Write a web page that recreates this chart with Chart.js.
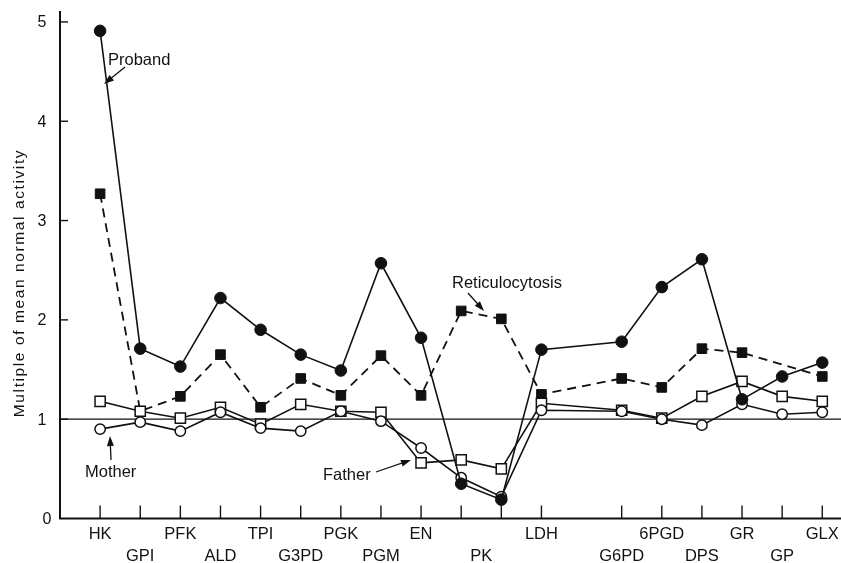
<!DOCTYPE html>
<html>
<head>
<meta charset="utf-8">
<script src="https://cdn.jsdelivr.net/npm/chart.js@4"></script>
<style>
  body { margin: 0; background: #fff; }
  #wrap { width: 841px; height: 563px; }
</style>
</head>
<body>
<div id="wrap"><canvas id="enzymeChart" width="841" height="563"></canvas></div>
<script>
// columns along the x axis (PK was assayed twice, one column is left empty)
const columns = ['HK', 'GPI', 'PFK', 'ALD', 'TPI', 'G3PD', 'PGK', 'PGM', 'EN', 'PK', 'PK', 'LDH', '', 'G6PD', '6PGD', 'DPS', 'GR', 'GP', 'GLX'];

const proband = [4.91, 1.71, 1.53, 2.22, 1.90, 1.65, 1.49, 2.57, 1.82, 0.35, 0.19, 1.70, null, 1.78, 2.33, 2.61, 1.20, 1.43, 1.57];
const reticulocytosis = [3.27, 1.08, 1.23, 1.65, 1.12, 1.41, 1.24, 1.64, 1.24, 2.09, 2.01, 1.25, null, 1.41, 1.32, 1.71, 1.67, null, 1.43];
const father = [1.18, 1.08, 1.01, 1.12, 0.95, 1.15, 1.08, 1.07, 0.56, 0.59, 0.50, 1.16, null, 1.09, 1.01, 1.23, 1.38, 1.23, 1.18];
const mother = [0.90, 0.97, 0.88, 1.07, 0.91, 0.88, 1.08, 0.98, 0.71, 0.41, 0.22, 1.09, null, 1.08, 1.00, 0.94, 1.15, 1.05, 1.07];

const yTicks = [0, 1, 2, 3, 4, 5];
const normalLevel = 1;

const INK = '#111';
const FONT = '"Liberation Sans", Arial, sans-serif';

function toPoints(values) {
  return values.map((v, i) => ({ x: i, y: v }));
}

function arrow(ctx, x1, y1, x2, y2) {
  const a = Math.atan2(y2 - y1, x2 - x1);
  ctx.beginPath();
  ctx.moveTo(x1, y1);
  ctx.lineTo(x2 - 6 * Math.cos(a), y2 - 6 * Math.sin(a));
  ctx.stroke();
  ctx.beginPath();
  ctx.moveTo(x2, y2);
  ctx.lineTo(x2 - 10 * Math.cos(a) + 3.5 * Math.sin(a), y2 - 10 * Math.sin(a) - 3.5 * Math.cos(a));
  ctx.lineTo(x2 - 10 * Math.cos(a) - 3.5 * Math.sin(a), y2 - 10 * Math.sin(a) + 3.5 * Math.cos(a));
  ctx.closePath();
  ctx.fill();
}

// axis ticks, labels, reference line and the hand lettering
const decorations = {
  id: 'decorations',
  beforeDatasetsDraw(chart) {
    const { ctx, chartArea, scales: { y } } = chart;
    ctx.save();
    ctx.strokeStyle = INK;
    ctx.lineWidth = 1.3;
    const yn = y.getPixelForValue(normalLevel);
    ctx.beginPath();
    ctx.moveTo(chartArea.left, yn);
    ctx.lineTo(chart.width, yn);
    ctx.stroke();
    // the base line runs to the page edge
    ctx.lineWidth = 2;
    ctx.beginPath();
    ctx.moveTo(chartArea.left - 1, chartArea.bottom);
    ctx.lineTo(chart.width, chartArea.bottom);
    ctx.stroke();
    ctx.restore();
  },
  afterDraw(chart) {
    const { ctx, chartArea, scales: { x, y } } = chart;
    ctx.save();
    ctx.strokeStyle = INK;
    ctx.fillStyle = INK;
    ctx.lineWidth = 1.4;

    // x ticks pointing inward
    columns.forEach((c, i) => {
      if (!c) return;
      const px = x.getPixelForValue(i);
      ctx.beginPath();
      ctx.moveTo(px, chartArea.bottom);
      ctx.lineTo(px, chartArea.bottom - 13);
      ctx.stroke();
    });

    // x labels, two staggered rows; repeated names share one label
    ctx.font = '16.5px ' + FONT;
    ctx.textAlign = 'center';
    ctx.textBaseline = 'alphabetic';
    let row = 0;
    for (let i = 0; i < columns.length; i++) {
      const name = columns[i];
      if (!name) continue;
      let j = i;
      while (columns[j + 1] === name) j++;
      const px = (x.getPixelForValue(i) + x.getPixelForValue(j)) / 2;
      ctx.fillText(name, px, row % 2 === 0 ? 539 : 561);
      row++;
      i = j;
    }

    // y ticks and labels
    ctx.font = '16px ' + FONT;
    yTicks.forEach(t => {
      const py = y.getPixelForValue(t);
      if (t > 0) {
        ctx.beginPath();
        ctx.moveTo(chartArea.left, py);
        ctx.lineTo(chartArea.left + 8, py);
        ctx.stroke();
      }
      ctx.textBaseline = 'middle';
      ctx.fillText(String(t), t === 0 ? 47 : 42, py + 1);
    });

    // y title
    ctx.save();
    ctx.translate(20, 283);
    ctx.rotate(-Math.PI / 2);
    ctx.font = '15.5px ' + FONT;
    ctx.letterSpacing = '1.6px';
    ctx.textBaseline = 'middle';
    ctx.fillText('Multiple of mean normal activity', 0, 0);
    ctx.restore();

    // series names with pointers
    ctx.font = '16.5px ' + FONT;
    ctx.textAlign = 'left';
    ctx.textBaseline = 'alphabetic';
    ctx.fillText('Proband', 108, 65);
    ctx.fillText('Reticulocytosis', 452, 288);
    ctx.fillText('Father', 323, 480);
    ctx.fillText('Mother', 85, 477);
    ctx.lineWidth = 1.3;
    arrow(ctx, 125, 67, 104, 84);
    arrow(ctx, 468, 293, 484, 311);
    arrow(ctx, 111, 460, 110, 436);
    arrow(ctx, 376, 472, 411, 460);
    ctx.restore();
  }
};

const ctx = document.getElementById('enzymeChart').getContext('2d');
new Chart(ctx, {
  type: 'line',
  data: {
    datasets: [
      {
        label: 'Proband',
        data: toPoints(proband),
        order: 0,
        borderColor: INK,
        borderWidth: 1.6,
        pointStyle: 'circle',
        pointRadius: 5.8,
        pointBackgroundColor: INK,
        pointBorderColor: INK,
        pointBorderWidth: 1
      },
      {
        label: 'Mother',
        data: toPoints(mother),
        order: 1,
        borderColor: INK,
        borderWidth: 1.6,
        pointStyle: 'circle',
        pointRadius: 5.2,
        pointBackgroundColor: '#fff',
        pointBorderColor: INK,
        pointBorderWidth: 1.5
      },
      {
        label: 'Father',
        data: toPoints(father),
        order: 2,
        borderColor: INK,
        borderWidth: 1.6,
        pointStyle: 'rect',
        pointRadius: 7.2,
        pointBackgroundColor: '#fff',
        pointBorderColor: INK,
        pointBorderWidth: 1.5
      },
      {
        label: 'Reticulocytosis',
        data: toPoints(reticulocytosis),
        order: 3,
        borderColor: INK,
        borderWidth: 1.8,
        borderDash: [9, 6],
        pointStyle: 'rect',
        pointRadius: 6.8,
        pointBackgroundColor: INK,
        pointBorderColor: INK,
        pointBorderWidth: 1
      }
    ]
  },
  options: {
    responsive: false,
    animation: false,
    devicePixelRatio: 1,
    spanGaps: true,
    layout: { padding: { left: 60, top: 12, right: 0, bottom: 44.5 } },
    plugins: { legend: { display: false }, tooltip: { enabled: false } },
    elements: { line: { tension: 0 } },
    scales: {
      x: {
        type: 'linear',
        min: -1,
        max: 18.25,
        grid: { display: false, drawTicks: false },
        ticks: { display: false },
        border: { display: false }
      },
      y: {
        min: 0,
        max: 5.1,
        grid: { display: false, drawTicks: false },
        ticks: { display: false },
        border: { display: true, color: INK, width: 2 }
      }
    }
  },
  plugins: [decorations]
});
</script>
</body>
</html>
